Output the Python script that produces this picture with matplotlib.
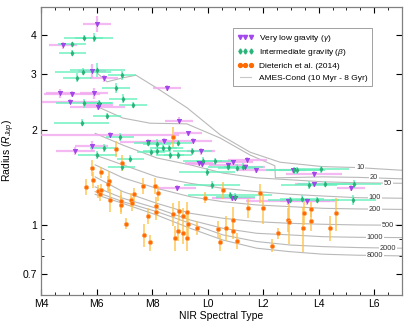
import numpy as np
import matplotlib
matplotlib.use('Agg')
import matplotlib.pyplot as plt
from matplotlib.ticker import FixedLocator, NullFormatter
from matplotlib.lines import Line2D

plt.rcParams['font.family'] = ['Liberation Sans', 'DejaVu Sans']
plt.rcParams['mathtext.fontset'] = 'custom'
plt.rcParams['mathtext.rm'] = 'Liberation Sans'
plt.rcParams['mathtext.it'] = 'Liberation Sans:italic'

# very low gravity (gamma)
vl_spt = [6.01, 4.80, 5.83, 6.27, 8.55, 4.68, 5.12, 5.92, 5.04, 6.04, 6.10, 8.97, 6.48, 9.28,
          5.83, 5.24, 7.84, 8.42, 9.46, 9.77, 9.69, 9.80, 10.92, 11.43, 10.74, 11.35, 11.76,
          13.06, 13.83, 13.83, 15.16, 8.89, 10.87, 10.99, 12.89, 13.59]
vl_rad = [4.33, 3.71, 3.08, 2.91, 2.72, 2.61, 2.60, 2.61, 2.46, 2.37, 2.40, 2.14, 1.93, 1.95,
          1.78, 1.71, 1.83, 1.84, 1.84, 1.71, 1.57, 1.56, 1.58, 1.61, 1.55, 1.53, 1.49,
          1.49, 1.45, 1.35, 1.31, 1.31, 1.22, 1.22, 1.19, 1.19]
vl_xerr = [0.5, 0.5, 0.5, 0.5, 0.5, 0.5, 1.0, 0.5, 1.0, 1.0, 0.5, 0.5, 2.5, 0.5,
           0.6, 0.7, 1.0, 0.5, 0.7, 0.5, 0.5, 0.5, 0.7, 0.7, 0.7, 0.7, 0.7,
           0.5, 1.0, 0.7, 0.5, 0.7, 0.7, 0.7, 1.5, 1.0]
vl_yerr = [0.25, 0.10, 0.15, 0.08, 0.06, 0.08, 0.06, 0.10, 0.05, 0.05, 0.05, 0.05, 0.04, 0.04,
           0.06, 0.05, 0.04, 0.04, 0.04, 0.04, 0.03, 0.03, 0.03, 0.03, 0.03, 0.03, 0.03,
           0.03, 0.03, 0.03, 0.03, 0.03, 0.03, 0.03, 0.03, 0.03]

# intermediate gravity (beta)
ig_spt = [5.53, 5.91, 5.12, 5.13, 5.52, 6.03, 5.29, 6.92, 6.69, 6.96, 7.30, 5.55, 6.10, 6.37,
          5.46, 6.84, 6.27, 6.03, 7.22, 6.90, 7.84, 8.17, 8.18, 7.96, 8.41, 8.61, 8.94, 8.65,
          8.92, 9.45, 9.82, 10.27, 10.73, 11.06, 11.29, 9.97, 10.16, 10.81, 10.99, 13.11,
          13.22, 14.08, 13.66, 14.23, 15.26, 12.97, 13.40, 13.93, 15.25]
ig_rad = [3.92, 3.92, 3.73, 3.50, 3.06, 3.10, 2.93, 2.98, 2.72, 2.51, 2.40, 2.43, 2.44, 2.21,
          2.11, 1.90, 1.75, 1.67, 1.62, 1.53, 1.82, 1.81, 1.71, 1.70, 1.75, 1.75, 1.82, 1.66,
          1.66, 1.71, 1.60, 1.59, 1.53, 1.52, 1.53, 1.47, 1.34, 1.24, 1.23, 1.49,
          1.49, 1.50, 1.34, 1.35, 1.35, 1.20, 1.21, 1.20, 1.20]
ig_xerr = [0.7, 0.7, 0.5, 0.5, 1.0, 1.0, 0.5, 0.5, 0.5, 0.5, 0.5, 1.0, 0.5, 0.5,
           1.0, 0.5, 0.5, 0.7, 0.5, 0.5, 0.5, 0.5, 0.5, 0.5, 0.5, 0.5, 0.5, 0.5,
           0.5, 0.7, 0.7, 0.7, 0.7, 0.7, 0.7, 1.0, 1.0, 1.5, 0.7, 1.0,
           1.0, 1.0, 1.0, 1.0, 1.0, 0.8, 0.8, 0.8, 0.8]
ig_yerr = [0.08, 0.12, 0.06, 0.08, 0.08, 0.15, 0.10, 0.10, 0.10, 0.08, 0.05, 0.08, 0.05, 0.05,
           0.05, 0.05, 0.05, 0.05, 0.04, 0.05, 0.04, 0.06, 0.04, 0.04, 0.04, 0.04, 0.04, 0.04,
           0.04, 0.04, 0.04, 0.04, 0.04, 0.04, 0.04, 0.04, 0.04, 0.03, 0.03, 0.04,
           0.04, 0.04, 0.04, 0.03, 0.04, 0.03, 0.03, 0.03, 0.04]

# Dieterich et al. (2014)
di_spt = [6.70, 8.74, 6.93, 5.84, 6.15, 5.89, 6.46, 6.42, 5.61, 7.68, 8.11, 8.23, 6.05, 6.16,
          6.12, 6.48, 6.87, 6.87, 7.23, 7.28, 7.34, 8.13, 8.13, 7.84, 8.75, 8.96, 9.26, 9.10,
          9.28, 8.94, 9.12, 8.84, 9.25, 9.63, 7.05, 7.72, 7.93, 9.90, 10.54, 10.90, 10.66,
          10.90, 10.39, 11.05, 10.45, 11.89, 11.47, 11.99, 12.55, 12.31, 12.91, 12.94, 13.42,
          13.47, 13.72, 13.72, 14.41, 14.62]
di_rad = [1.74, 1.90, 1.57, 1.52, 1.47, 1.39, 1.38, 1.35, 1.32, 1.33, 1.33, 1.26, 1.28, 1.29,
          1.25, 1.20, 1.19, 1.16, 1.20, 1.17, 1.25, 1.15, 1.10, 1.07, 1.08, 1.11, 1.10, 1.07,
          1.01, 0.96, 0.94, 0.91, 0.91, 0.98, 1.01, 0.93, 0.88, 1.22, 1.29, 1.04, 0.98,
          0.96, 0.97, 0.89, 0.88, 1.26, 1.13, 1.13, 0.94, 0.86, 1.04, 1.02, 0.98,
          1.09, 1.12, 1.03, 0.98, 1.09]
di_yerr = [0.10, 0.14, 0.09, 0.09, 0.06, 0.08, 0.10, 0.08, 0.08, 0.08, 0.08, 0.07, 0.06, 0.06,
           0.06, 0.10, 0.09, 0.08, 0.06, 0.06, 0.06, 0.08, 0.06, 0.06, 0.09, 0.08, 0.08, 0.06,
           0.09, 0.07, 0.07, 0.08, 0.08, 0.05, 0.04, 0.08, 0.05, 0.05, 0.08, 0.10, 0.09,
           0.06, 0.06, 0.05, 0.05, 0.09, 0.08, 0.12, 0.04, 0.04, 0.09, 0.15, 0.16,
           0.09, 0.06, 0.07, 0.09, 0.13]

# AMES-Cond isochrones
iso_ages = ['10', '20', '50', '100', '200', '500', '1000', '2000', '8000']
iso_spt_10 = [5.98, 6.38, 6.92, 7.42, 8.18, 9.26, 10.45, 11.53, 12.61, 14.15, 15.38, 17.0]
iso_rad_10 = [3.05, 2.84, 2.92, 2.98, 2.71, 2.35, 1.93, 1.70, 1.58, 1.53, 1.52, 1.49]
iso_spt_20 = [5.98, 6.95, 7.93, 9.25, 10.45, 11.53, 12.42, 12.44, 14.15, 15.4, 17.0]
iso_rad_20 = [2.38, 2.18, 2.10, 2.09, 1.885, 1.665, 1.54, 1.41, 1.42, 1.415, 1.40]
iso_spt = [5.95, 6.95, 8.17, 9.37, 10.55, 11.77, 12.97, 14.15, 15.4, 17.0]
iso_rad_50 = [1.95, 1.79, 1.63, 1.55, 1.46, 1.41, 1.39, 1.37, 1.36, 1.355]
iso_rad_100 = [1.665, 1.55, 1.42, 1.355, 1.306, 1.275, 1.251, 1.235, 1.22, 1.215]
iso_rad_200 = [1.55, 1.41, 1.306, 1.229, 1.185, 1.157, 1.143, 1.129, 1.124, 1.12]
iso_rad_500 = [1.42, 1.275, 1.171, 1.089, 1.05, 1.024, 1.012, 1.005, 1.0, 0.998]
iso_rad_1000 = [1.32, 1.215, 1.129, 1.037, 0.976, 0.941, 0.93, 0.918, 0.914, 0.912]
iso_rad_2000 = [1.275, 1.185, 1.102, 1.012, 0.93, 0.886, 0.864, 0.854, 0.848, 0.844]
iso_rad_8000 = [1.25, 1.17, 1.075, 0.976, 0.896, 0.844, 0.823, 0.808, 0.802, 0.798]
iso_label_x = [15.49, 15.99, 16.5, 16.03, 16.03, 16.5, 16.03, 16.5, 16.03]

xtick_vals = [4, 6, 8, 10, 12, 14, 16]
xtick_labels = ['M4', 'M6', 'M8', 'L0', 'L2', 'L4', 'L6']
ytick_vals = [0.7, 1, 2, 3, 4]
ytick_labels = ['0.7', '1', '2', '3', '4']

fig = plt.figure(figsize=(4.11, 3.29), dpi=100)
ax = fig.add_axes([0.0998, 0.1033, 0.8783, 0.8754])

iso_spts = [iso_spt_10, iso_spt_20] + [iso_spt] * 7
iso_rads = [iso_rad_10, iso_rad_20, iso_rad_50, iso_rad_100, iso_rad_200,
            iso_rad_500, iso_rad_1000, iso_rad_2000, iso_rad_8000]
for spt, rad, age, xl in zip(iso_spts, iso_rads, iso_ages, iso_label_x):
    ax.plot(spt, rad, color='#b9b9b9', lw=0.8, zorder=1)
    ax.text(xl, np.interp(xl, spt, rad), age, fontsize=5.3, color='#333333',
            ha='center', va='center', zorder=2,
            bbox=dict(fc='white', ec='none', pad=0.4))

# error bars first, markers on top
ax.errorbar(vl_spt, vl_rad, xerr=vl_xerr, yerr=vl_yerr, fmt='none',
            ecolor='#f2a6f0', elinewidth=1.6, alpha=0.8, zorder=3)
ax.errorbar(ig_spt, ig_rad, xerr=ig_xerr, yerr=ig_yerr, fmt='none',
            ecolor='#66f0bc', elinewidth=1.3, alpha=0.8, zorder=3)
ax.errorbar(di_spt, di_rad, yerr=di_yerr, fmt='none',
            ecolor='#ffc24a', elinewidth=1.1, alpha=0.9, zorder=3)

ax.plot(vl_spt, vl_rad, 'v', ms=3.3, color='#a347ee', mec='#8a2be2', mew=0.3, ls='none', zorder=4)
ax.plot(ig_spt, ig_rad, 'd', ms=2.8, color='#2ab47a', mec='#1a9a60', mew=0.2, ls='none', zorder=4)
ax.plot(di_spt, di_rad, 'o', ms=3.0, color='#ff6a00', mec='#ffa050', mew=0.5, ls='none', zorder=5)

ax.set_yscale('log')
ax.set_xlim(4, 17)
ax.set_ylim(0.6, 4.9)
ax.yaxis.set_major_locator(FixedLocator(ytick_vals))
ax.set_yticklabels(ytick_labels)
ax.yaxis.set_minor_locator(FixedLocator([0.8, 0.9]))
ax.yaxis.set_minor_formatter(NullFormatter())
ax.set_xticks(xtick_vals)
ax.set_xticklabels(xtick_labels)
ax.xaxis.set_minor_locator(FixedLocator(np.arange(4, 17.01, 0.5)))

ax.tick_params(which='both', direction='in', top=True, right=True, labelsize=7.5, pad=3)
ax.tick_params(which='major', length=4, width=0.8)
ax.tick_params(which='minor', length=2, width=0.6)
for s in ax.spines.values():
    s.set_color('#808080')
    s.set_linewidth(0.9)

ax.set_xlabel('NIR Spectral Type', fontsize=7.5, labelpad=1)
ax.set_ylabel(r'Radius ($R_{Jup}$)', fontsize=7.5, labelpad=4)

handles = [
    Line2D([], [], marker='v', ms=3, color='#a347ee', ls='none'),
    Line2D([], [], marker='d', ms=2.6, color='#2ab47a', ls='none'),
    Line2D([], [], marker='o', ms=2.8, color='#ff6a00', ls='none'),
    Line2D([], [], color='#c8c8c8', lw=0.8),
]
labels = [r'Very low gravity ($\gamma$)', r'Intermediate gravity ($\beta$)',
          'Dieterich et al. (2014)', 'AMES-Cond (10 Myr - 8 Gyr)']
leg = ax.legend(handles, labels, loc='upper left', bbox_to_anchor=(0.52, 0.94),
                fontsize=6, numpoints=3, fancybox=False, framealpha=1,
                edgecolor='#909090', borderpad=0.5, handlelength=2.0,
                handletextpad=0.6, labelspacing=0.45)
leg.get_frame().set_linewidth(0.6)
leg.set_zorder(10)

fig.savefig('out.png', dpi=100)
